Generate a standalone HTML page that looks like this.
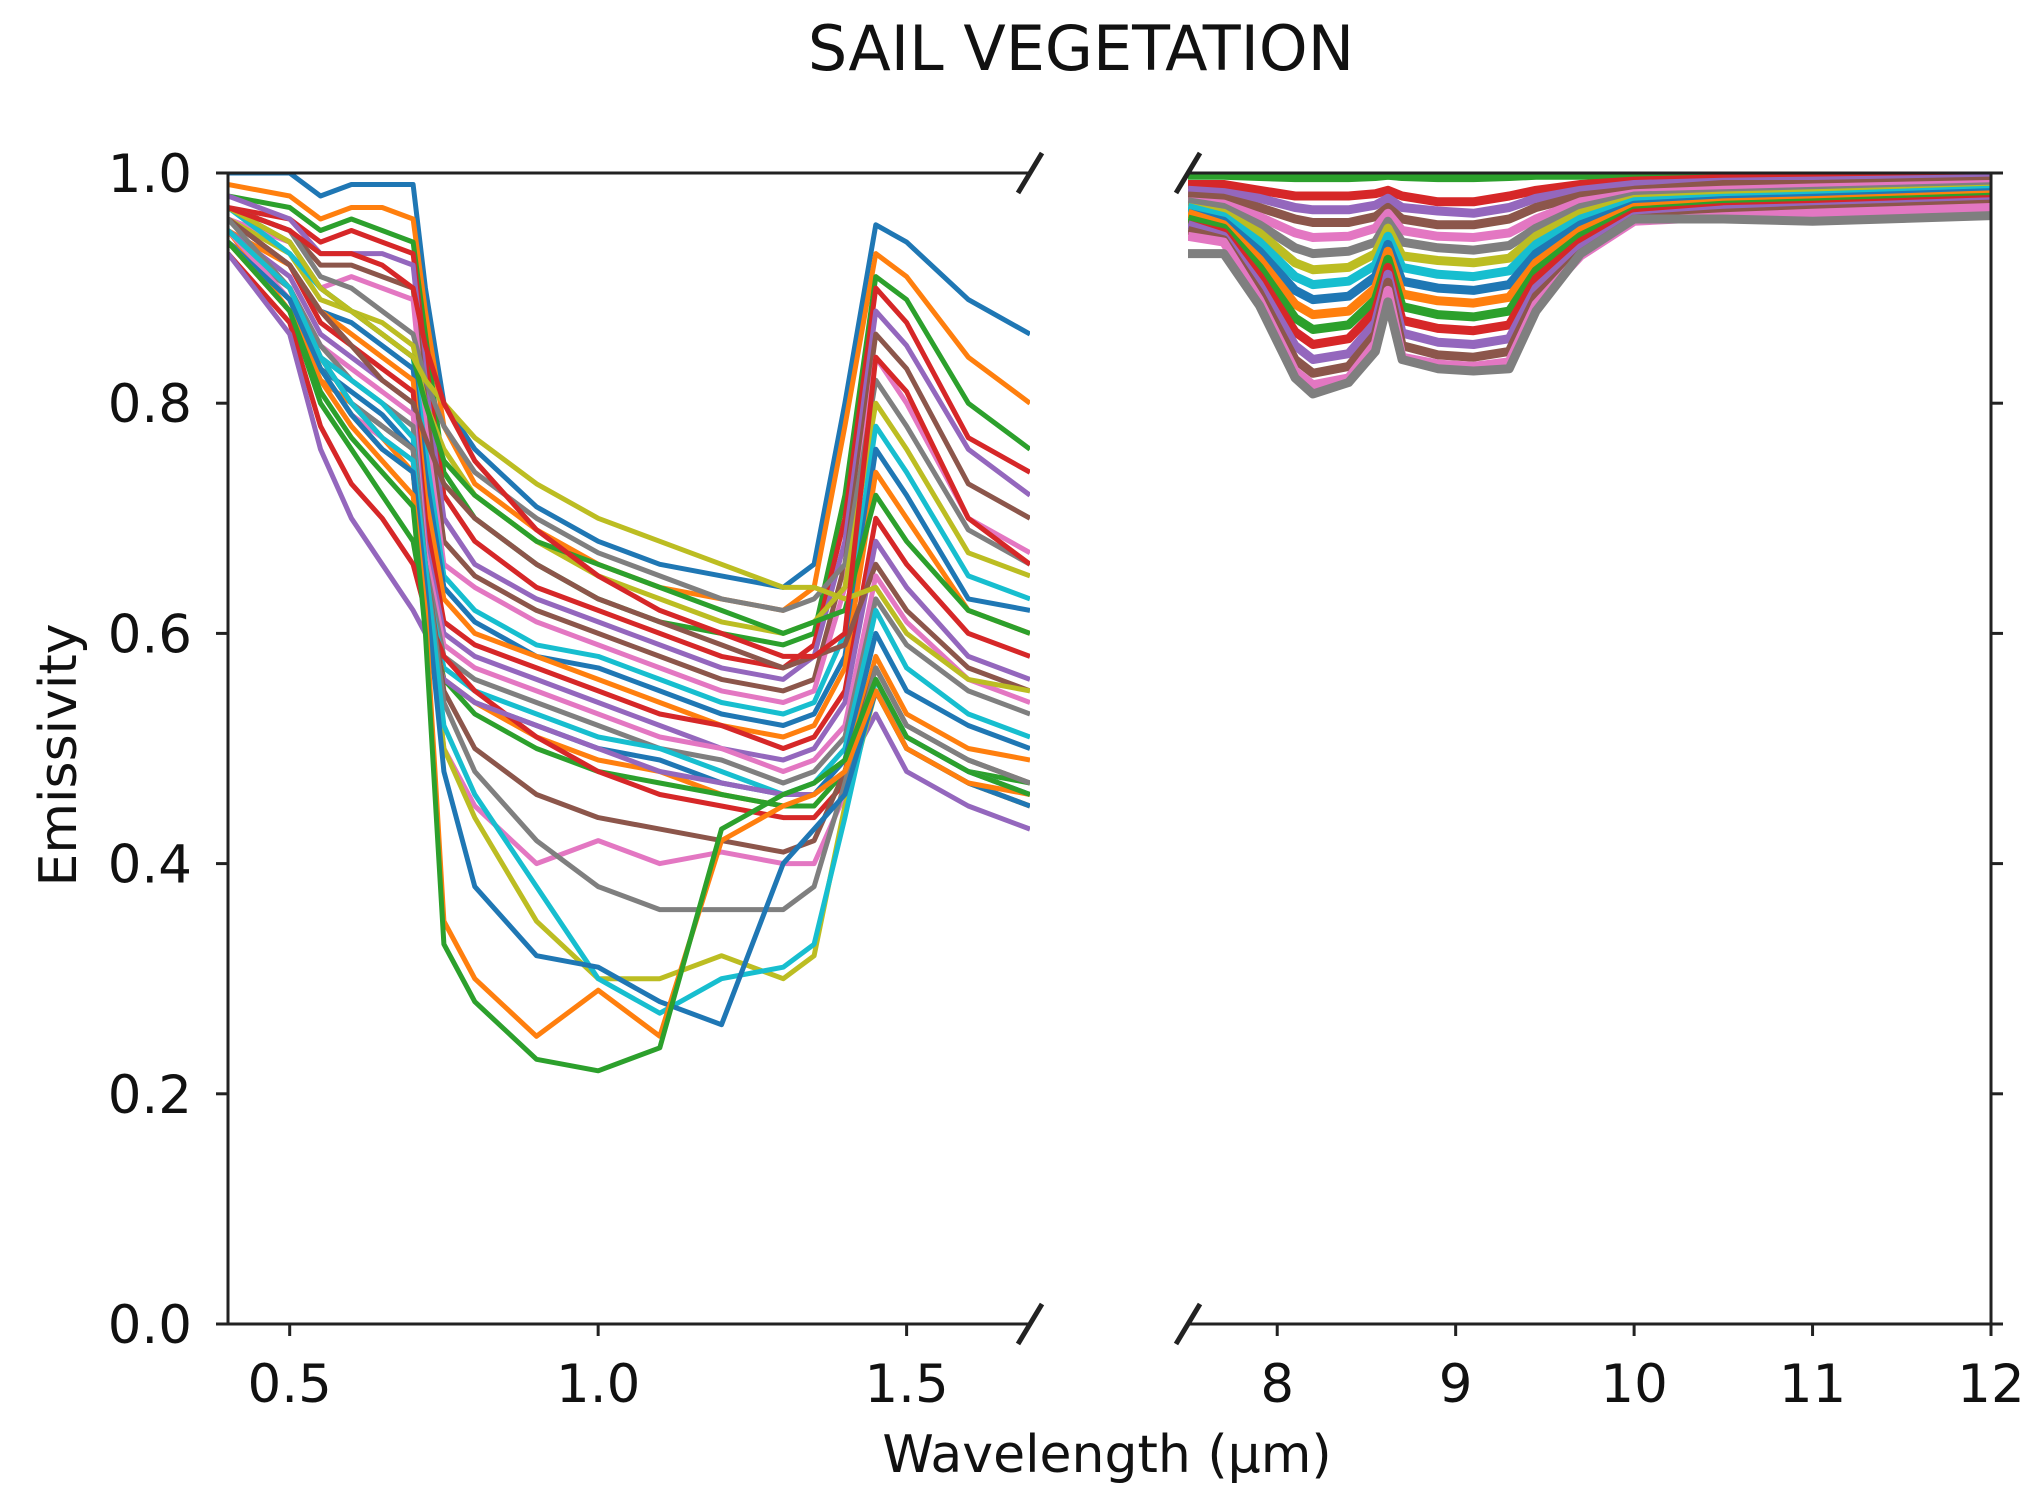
<!DOCTYPE html>
<html><head><meta charset="utf-8"><style>
html,body{margin:0;padding:0;background:#fff;}
svg{display:block;font-family:"DejaVu Sans","Liberation Sans",sans-serif;}
</style></head><body>
<svg id="chart" width="2033" height="1506" viewBox="0 0 2033 1506">
<defs>
<clipPath id="clipL"><rect x="228" y="173" width="802" height="1151"/></clipPath>
<clipPath id="clipR"><rect x="1188" y="173" width="803" height="1151"/></clipPath>
</defs>
<text x="1081" y="70" text-anchor="middle" font-size="62" fill="#111">SAIL VEGETATION</text>
<g id="linesL" clip-path="url(#clipL)"></g>
<g id="linesR" clip-path="url(#clipR)"></g>
<g id="axes"></g>
<text x="1107" y="1472" text-anchor="middle" font-size="52" fill="#111">Wavelength (µm)</text>
<text transform="translate(76,755) rotate(-90)" text-anchor="middle" font-size="52" fill="#111">Emissivity</text>
</svg>
<script>
const xLeft=[0.4,0.5,0.55,0.6,0.65,0.7,0.72,0.75,0.8,0.9,1.0,1.1,1.2,1.3,1.35,1.4,1.45,1.5,1.6,1.7];
const seriesLeft=[
[1.0,1.0,0.98,0.99,0.99,0.99,0.9,0.8,0.76,0.71,0.68,0.66,0.65,0.64,0.66,0.8,0.955,0.94,0.89,0.86],
[0.99,0.98,0.96,0.97,0.97,0.96,0.88,0.78,0.73,0.69,0.66,0.64,0.63,0.62,0.64,0.78,0.93,0.91,0.84,0.8],
[0.98,0.97,0.95,0.96,0.95,0.94,0.86,0.74,0.7,0.66,0.63,0.61,0.6,0.59,0.6,0.72,0.91,0.89,0.8,0.76],
[0.97,0.96,0.94,0.95,0.94,0.93,0.84,0.72,0.68,0.64,0.62,0.6,0.58,0.57,0.59,0.7,0.9,0.87,0.77,0.74],
[0.98,0.96,0.93,0.93,0.93,0.92,0.82,0.7,0.66,0.63,0.61,0.59,0.57,0.56,0.58,0.68,0.88,0.85,0.76,0.72],
[0.97,0.95,0.92,0.92,0.91,0.9,0.8,0.68,0.65,0.62,0.6,0.58,0.56,0.55,0.56,0.66,0.86,0.83,0.73,0.7],
[0.96,0.94,0.9,0.91,0.9,0.89,0.78,0.66,0.64,0.61,0.59,0.57,0.55,0.54,0.55,0.64,0.84,0.8,0.7,0.67],
[0.97,0.95,0.91,0.9,0.88,0.86,0.82,0.78,0.74,0.7,0.67,0.65,0.63,0.62,0.63,0.66,0.82,0.78,0.69,0.66],
[0.96,0.93,0.89,0.88,0.87,0.85,0.8,0.76,0.72,0.68,0.65,0.63,0.61,0.6,0.61,0.64,0.8,0.76,0.67,0.65],
[0.97,0.93,0.9,0.88,0.86,0.84,0.76,0.65,0.62,0.59,0.58,0.56,0.54,0.53,0.54,0.6,0.78,0.74,0.65,0.63],
[0.96,0.92,0.88,0.87,0.85,0.83,0.74,0.64,0.61,0.58,0.57,0.55,0.53,0.52,0.53,0.58,0.76,0.72,0.63,0.62],
[0.95,0.92,0.88,0.86,0.84,0.82,0.72,0.63,0.6,0.58,0.56,0.54,0.52,0.51,0.52,0.57,0.74,0.7,0.62,0.6],
[0.97,0.94,0.9,0.88,0.86,0.84,0.8,0.75,0.72,0.68,0.66,0.64,0.62,0.6,0.61,0.62,0.72,0.68,0.62,0.6],
[0.96,0.92,0.87,0.85,0.83,0.81,0.7,0.61,0.59,0.57,0.55,0.53,0.52,0.5,0.51,0.55,0.7,0.66,0.6,0.58],
[0.95,0.91,0.86,0.84,0.82,0.8,0.68,0.6,0.58,0.56,0.54,0.52,0.5,0.49,0.5,0.54,0.68,0.64,0.58,0.56],
[0.96,0.92,0.88,0.85,0.82,0.8,0.77,0.73,0.7,0.66,0.63,0.61,0.59,0.57,0.58,0.59,0.66,0.62,0.57,0.55],
[0.95,0.9,0.85,0.83,0.81,0.79,0.67,0.59,0.57,0.55,0.53,0.51,0.5,0.48,0.49,0.52,0.65,0.61,0.56,0.54],
[0.94,0.9,0.85,0.82,0.8,0.78,0.66,0.58,0.56,0.54,0.52,0.5,0.49,0.47,0.48,0.51,0.63,0.59,0.55,0.53],
[0.97,0.94,0.9,0.88,0.86,0.84,0.82,0.8,0.77,0.73,0.7,0.68,0.66,0.64,0.64,0.63,0.64,0.6,0.56,0.55],
[0.95,0.9,0.84,0.82,0.8,0.77,0.65,0.57,0.55,0.53,0.51,0.5,0.48,0.46,0.47,0.5,0.62,0.57,0.53,0.51],
[0.94,0.89,0.83,0.81,0.79,0.76,0.64,0.56,0.54,0.52,0.5,0.49,0.47,0.46,0.46,0.49,0.6,0.55,0.52,0.5],
[0.95,0.88,0.82,0.8,0.77,0.74,0.63,0.56,0.54,0.51,0.49,0.48,0.46,0.45,0.45,0.48,0.58,0.53,0.5,0.49],
[0.94,0.88,0.8,0.76,0.72,0.68,0.62,0.56,0.53,0.5,0.48,0.47,0.46,0.45,0.45,0.48,0.56,0.51,0.48,0.47],
[0.93,0.87,0.78,0.73,0.7,0.66,0.62,0.58,0.55,0.51,0.48,0.46,0.45,0.44,0.44,0.47,0.55,0.5,0.47,0.45],
[0.93,0.86,0.76,0.7,0.66,0.62,0.6,0.56,0.54,0.52,0.5,0.48,0.47,0.46,0.46,0.48,0.53,0.48,0.45,0.43],
[0.95,0.9,0.84,0.8,0.78,0.76,0.66,0.55,0.5,0.46,0.44,0.43,0.42,0.41,0.42,0.48,0.57,0.52,0.49,0.47],
[0.95,0.89,0.83,0.79,0.77,0.75,0.64,0.5,0.45,0.4,0.42,0.4,0.41,0.4,0.4,0.46,0.55,0.51,0.48,0.46],
[0.96,0.9,0.84,0.8,0.78,0.76,0.66,0.54,0.48,0.42,0.38,0.36,0.36,0.36,0.38,0.47,0.57,0.52,0.49,0.47],
[0.95,0.9,0.83,0.79,0.76,0.74,0.64,0.5,0.44,0.35,0.3,0.3,0.32,0.3,0.32,0.45,0.55,0.5,0.47,0.45],
[0.95,0.9,0.84,0.8,0.77,0.75,0.66,0.52,0.46,0.38,0.3,0.27,0.3,0.31,0.33,0.44,0.56,0.51,0.48,0.46],
[0.94,0.89,0.83,0.79,0.76,0.74,0.64,0.48,0.38,0.32,0.31,0.28,0.26,0.4,0.43,0.46,0.55,0.5,0.47,0.45],
[0.94,0.88,0.82,0.78,0.75,0.72,0.62,0.35,0.3,0.25,0.29,0.25,0.42,0.45,0.46,0.48,0.55,0.5,0.47,0.46],
[0.94,0.88,0.81,0.77,0.74,0.71,0.6,0.33,0.28,0.23,0.22,0.24,0.43,0.46,0.47,0.49,0.56,0.51,0.48,0.46],
[0.97,0.95,0.93,0.93,0.92,0.9,0.85,0.8,0.75,0.69,0.65,0.62,0.6,0.58,0.58,0.6,0.84,0.81,0.7,0.66]
];
const xRight=[7.5,7.7,7.9,8.1,8.2,8.4,8.55,8.62,8.7,8.9,9.1,9.3,9.45,9.7,10,10.5,11,12];
const seriesRight=[
[0.998,0.998,0.997,0.996,0.996,0.996,0.997,0.998,0.997,0.996,0.996,0.997,0.998,0.998,0.999,0.999,0.999,0.999],
[0.99,0.99,0.985,0.98,0.98,0.98,0.982,0.985,0.98,0.975,0.975,0.98,0.985,0.99,0.993,0.995,0.996,0.997],
[0.985,0.983,0.978,0.97,0.968,0.968,0.972,0.978,0.97,0.967,0.965,0.97,0.978,0.985,0.99,0.992,0.993,0.995],
[0.98,0.978,0.97,0.96,0.957,0.957,0.962,0.97,0.96,0.955,0.955,0.96,0.97,0.98,0.985,0.99,0.99,0.993],
[0.975,0.973,0.962,0.948,0.944,0.945,0.952,0.965,0.95,0.945,0.944,0.948,0.96,0.975,0.982,0.985,0.987,0.99],
[0.975,0.97,0.955,0.935,0.93,0.932,0.94,0.958,0.94,0.935,0.933,0.937,0.952,0.97,0.98,0.982,0.984,0.988],
[0.97,0.965,0.948,0.922,0.916,0.918,0.93,0.952,0.928,0.924,0.922,0.926,0.945,0.965,0.977,0.98,0.982,0.986],
[0.97,0.962,0.94,0.91,0.903,0.906,0.92,0.945,0.918,0.912,0.91,0.915,0.938,0.96,0.975,0.978,0.98,0.985],
[0.965,0.958,0.932,0.898,0.89,0.893,0.91,0.938,0.906,0.9,0.898,0.903,0.93,0.955,0.972,0.976,0.978,0.983],
[0.965,0.955,0.925,0.886,0.877,0.88,0.9,0.932,0.895,0.889,0.887,0.892,0.922,0.95,0.97,0.974,0.976,0.981],
[0.96,0.952,0.918,0.874,0.864,0.868,0.89,0.925,0.884,0.877,0.875,0.88,0.915,0.945,0.967,0.972,0.974,0.979],
[0.955,0.948,0.91,0.862,0.851,0.856,0.88,0.918,0.872,0.865,0.863,0.868,0.908,0.94,0.965,0.97,0.972,0.977],
[0.955,0.945,0.903,0.85,0.838,0.843,0.87,0.912,0.861,0.853,0.851,0.856,0.9,0.935,0.962,0.968,0.97,0.975],
[0.95,0.942,0.896,0.838,0.826,0.832,0.86,0.905,0.85,0.842,0.84,0.845,0.893,0.93,0.96,0.965,0.968,0.973],
[0.945,0.94,0.89,0.828,0.816,0.822,0.852,0.898,0.84,0.834,0.832,0.836,0.886,0.928,0.958,0.962,0.965,0.97],
[0.93,0.93,0.885,0.822,0.808,0.818,0.845,0.888,0.838,0.83,0.828,0.83,0.88,0.93,0.96,0.96,0.958,0.963]
];
const yTicks=[0.0,0.2,0.4,0.6,0.8,1.0];
const xTicksLeft=[0.5,1.0,1.5];
const xTicksRight=[8,9,10,11,12];
const colors=['#1f77b4','#ff7f0e','#2ca02c','#d62728','#9467bd','#8c564b','#e377c2','#7f7f7f','#bcbd22','#17becf'];
const NS='http://www.w3.org/2000/svg';
const Y0=1324,Y1=173;
function ys(v){return Y0-(v)*(Y0-Y1);}
function xl(v){return 228+(v-0.4)/(1.7-0.4)*(1030-228);}
function xr(v){return 1188+(v-7.5)/(12-7.5)*(1991-1188);}
function drawSet(g,xs,series,xf,w,offset){
  series.forEach((s,i)=>{
    const p=document.createElementNS(NS,'polyline');
    p.setAttribute('points',s.map((v,j)=>xf(xs[j]).toFixed(1)+','+ys(v).toFixed(1)).join(' '));
    p.setAttribute('fill','none');
    p.setAttribute('stroke',colors[(i+offset)%10]);
    p.setAttribute('stroke-width',w);
    p.setAttribute('stroke-linejoin','round');
    
    
    g.appendChild(p);
  });
}
drawSet(document.getElementById('linesL'),xLeft,seriesLeft,xl,5,0);
drawSet(document.getElementById('linesR'),xRight,seriesRight,xr,9,2);
const ax=document.getElementById('axes');
function line(x1,y1,x2,y2,w,name){
  const l=document.createElementNS(NS,'line');
  l.setAttribute('x1',x1);l.setAttribute('y1',y1);l.setAttribute('x2',x2);l.setAttribute('y2',y2);
  l.setAttribute('stroke','#222');l.setAttribute('stroke-width',w);
  
  
  ax.appendChild(l);
}
function text(x,y,s,anchor,name){
  const t=document.createElementNS(NS,'text');
  t.setAttribute('x',x);t.setAttribute('y',y);t.setAttribute('text-anchor',anchor);
  t.setAttribute('font-size','53');t.setAttribute('fill','#111');
  t.textContent=s;
  
  
  ax.appendChild(t);
}
line(228,173,228,1324,3,'left-y-spine');
line(228,1324,1030,1324,3,'left-x-spine');
line(228,173,1030,173,3,'left-top-spine');
line(1188,173,1991,173,3,'right-top-spine');
line(1188,1324,1991,1324,3,'right-x-spine');
line(1991,173,1991,1324,3,'right-y-spine');
yTicks.forEach(v=>{
  line(216,ys(v),228,ys(v),3,'y-tick');
  line(1991,ys(v),2003,ys(v),3,'right-y-tick');
  text(192,ys(v)+19,v.toFixed(1),'end','y-tick-label');
});
xTicksLeft.forEach(v=>{line(xl(v),1324,xl(v),1336,3,'x-tick');text(xl(v),1402,v.toFixed(1),'middle','x-tick-label');});
xTicksRight.forEach(v=>{line(xr(v),1324,xr(v),1336,3,'x-tick');text(xr(v),1402,String(v),'middle','x-tick-label');});
[[1030,173],[1030,1324],[1188,173],[1188,1324]].forEach(p=>line(p[0]-12,p[1]+20,p[0]+12,p[1]-20,5,'axis-break-mark'));
</script>
</body></html>
